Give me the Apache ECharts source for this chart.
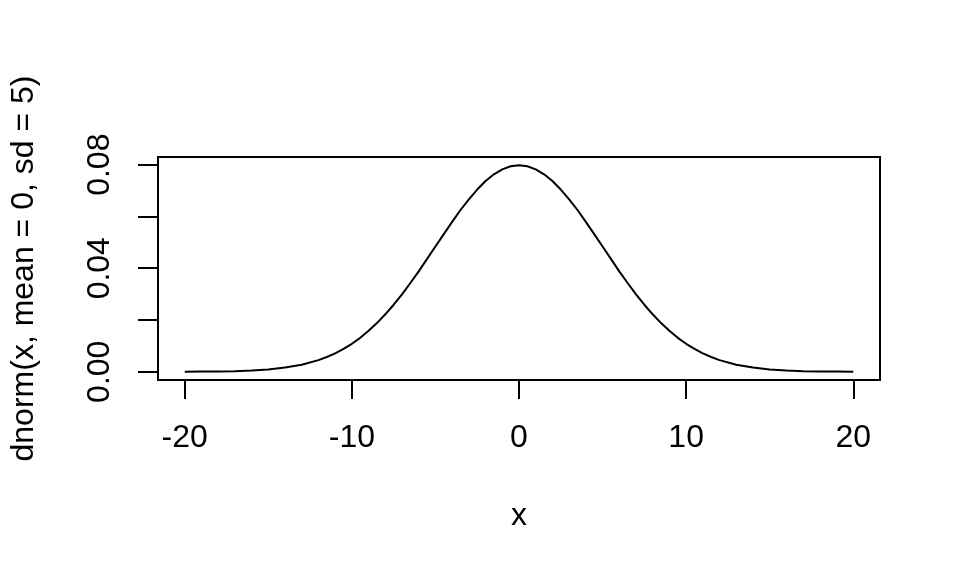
<!DOCTYPE html>
<html>
<head>
<meta charset="utf-8">
<script src="https://cdn.jsdelivr.net/npm/echarts@6/dist/echarts.min.js"></script>
<style>
html,body{margin:0;padding:0;background:#fff;}
#chart{width:960px;height:576px;}
</style>
</head>
<body>
<div id="chart"></div>
<script>
// x positions and density values
var xValues = [-20,-19,-18,-17,-16,-15,-14,-13,-12,-11.5,-11,-10.5,-10,-9.5,-9,-8.5,-8,-7.5,-7,-6.5,-6,
               -5.5,-5,-4.5,-4,-3.5,-3,-2.5,-2,-1.5,-1,-0.5,0,
               0.5,1,1.5,2,2.5,3,3.5,4,4.5,5,5.5,6,6.5,7,7.5,8,8.5,9,9.5,10,10.5,11,11.5,
               12,13,14,15,16,17,18,19,20];
var yValues = [0.0000,0.0001,0.0001,0.0002,0.0005,0.0009,0.0016,0.0027,0.0045,0.0057,0.0071,0.0088,
               0.0108,0.0131,0.0158,0.0188,0.0222,0.0259,0.0299,0.0343,0.0388,
               0.0436,0.0484,0.0532,0.0579,0.0625,0.0666,0.0704,0.0737,0.0763,0.0782,0.0794,0.0798,
               0.0794,0.0782,0.0763,0.0737,0.0704,0.0666,0.0625,0.0579,0.0532,0.0484,0.0436,0.0388,
               0.0343,0.0299,0.0259,0.0222,0.0188,0.0158,0.0131,0.0108,0.0088,0.0071,0.0057,
               0.0045,0.0027,0.0016,0.0009,0.0005,0.0002,0.0001,0.0001,0.0000];
var xTicks = [-20,-10,0,10,20];
var yTicks = [0,0.02,0.04,0.06,0.08];
var yTickLabels = [0,0.04,0.08];
var xTitle = 'x';
var yTitle = 'dnorm(x, mean = 0, sd = 5)';

var FONT = '"Liberation Sans", Arial, Helvetica, sans-serif';
var data = xValues.map(function (x, i) { return [x, yValues[i]]; });

var chart = echarts.init(document.getElementById('chart'), null, {renderer: 'canvas'});
chart.setOption({
  animation: false,
  backgroundColor: '#fff',
  grid: {
    left: 158, right: 80, top: 157, bottom: 196,
    show: true, borderColor: '#000', borderWidth: 2, backgroundColor: 'transparent'
  },
  xAxis: {
    type: 'value',
    position: 'bottom',
    min: -21.6, max: 21.6,
    name: xTitle,
    nameLocation: 'middle',
    nameGap: 120,
    nameTextStyle: {color: '#000', fontSize: 32, fontFamily: FONT},
    axisLine: {show: false, onZero: false},
    splitLine: {show: false},
    axisTick: {show: true, inside: false, customValues: xTicks, length: 19, lineStyle: {color: '#000', width: 2}},
    axisLabel: {show: true, customValues: xTicks, margin: 42, color: '#000', fontSize: 32, fontFamily: FONT}
  },
  yAxis: {
    type: 'value',
    position: 'left',
    min: -0.00319, max: 0.08298,
    name: yTitle,
    nameLocation: 'middle',
    nameGap: 118,
    nameTextStyle: {color: '#000', fontSize: 32, fontFamily: FONT},
    axisLine: {show: false, onZero: false},
    splitLine: {show: false},
    axisTick: {show: true, inside: false, customValues: yTicks, length: 20, lineStyle: {color: '#000', width: 2}},
    axisLabel: {
      show: true, customValues: yTickLabels, rotate: 90, margin: 42,
      color: '#000', fontSize: 32, fontFamily: FONT,
      formatter: function (v) { return Number(v).toFixed(2); }
    }
  },
  series: [{
    type: 'line',
    data: data,
    showSymbol: false,
    smooth: false,
    lineStyle: {color: '#000', width: 2},
    itemStyle: {color: '#000'}
  }]
});
</script>
</body>
</html>
